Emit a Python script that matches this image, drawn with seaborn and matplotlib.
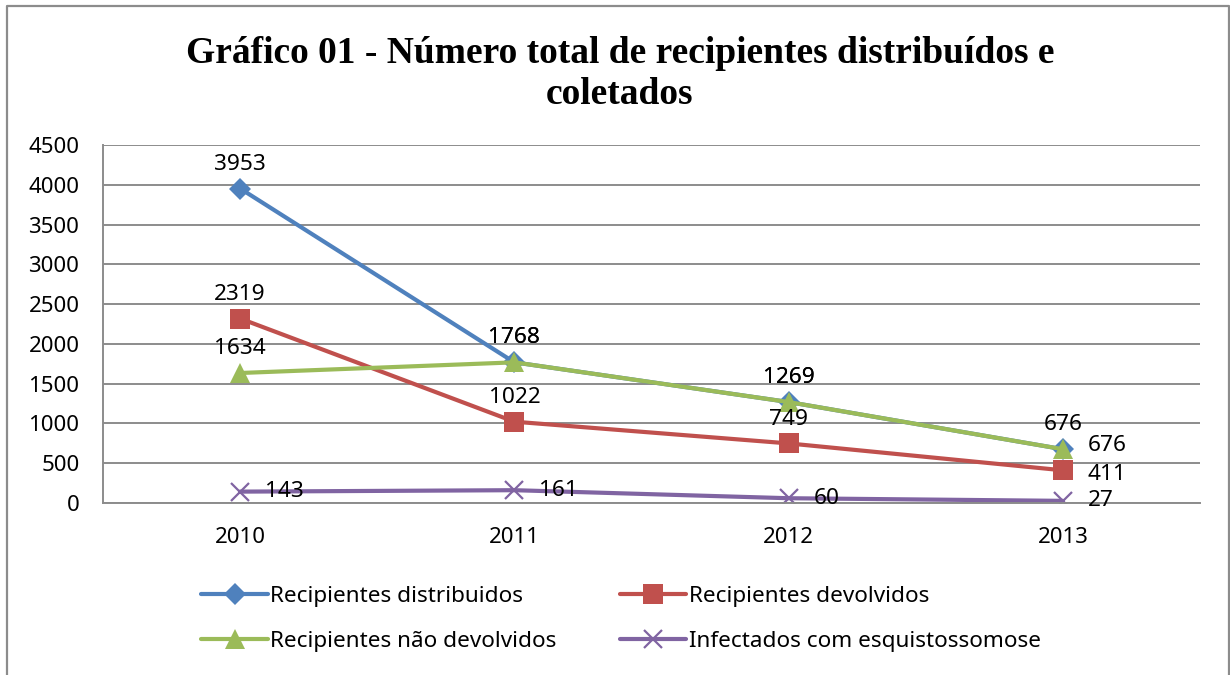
import matplotlib
matplotlib.use("Agg")
import matplotlib.pyplot as plt
from matplotlib.lines import Line2D
import seaborn as sns
import pandas as pd

# ---- data ----
years = [2010, 2011, 2012, 2013]
distribuidos = [3953, 1768, 1269, 676]
devolvidos = [2319, 1022, 749, 411]
nao_devolvidos = [1634, 1768, 1269, 676]
infectados = [143, 161, 60, 27]
series_names = ["Recipientes distribuidos", "Recipientes devolvidos",
                "Recipientes não devolvidos", "Infectados com esquistossomose"]
y_ticks = [0, 500, 1000, 1500, 2000, 2500, 3000, 3500, 4000, 4500]
title = "Gráfico 01 - Número total de recipientes distribuídos e\ncoletados"

sns.set_theme(style="white")
plt.rcParams["font.family"] = ["Noto Sans", "DejaVu Sans"]
plt.rcParams["text.color"] = "black"

fig = plt.figure(figsize=(12.3, 6.75), dpi=100)
ax = fig.add_axes([103 / 1230, 1 - 503 / 675, (1200 - 103) / 1230, (503 - 145) / 675])

styles = [
    dict(color="#4F81BD", marker="D", markersize=11, markeredgewidth=0),
    dict(color="#C0504D", marker="s", markersize=14, markeredgewidth=0),
    dict(color="#9BBB59", marker="^", markersize=15, markeredgewidth=0),
    dict(color="#8064A2", marker="x", markersize=13, markeredgewidth=1.6),
]
# label placement per point: (position, vertical nudge in points)
label_pos = [
    [("above", 0), ("above", 0), ("above", 0), ("above", 0)],
    [("above", 0), ("above", 0), ("above", 0), ("right", -3)],
    [("above", 0), ("above", 0), ("above", 0), ("right", 3)],
    [("right", 0), ("right", 0), ("right", 0), ("right", 0)],
]
values = [distribuidos, devolvidos, nao_devolvidos, infectados]

for name, vals, st, pos in zip(series_names, values, styles, label_pos):
    df = pd.DataFrame({"ano": years, "valor": vals})
    sns.lineplot(data=df, x="ano", y="valor", ax=ax, label=name, linewidth=3,
                 color=st["color"], marker=st["marker"], markersize=st["markersize"],
                 markeredgewidth=st["markeredgewidth"], markeredgecolor=st["color"])
    for x, v, (p, dy) in zip(years, vals, pos):
        if p == "above":
            ax.annotate(str(v), (x, v), xytext=(0, 10 + dy), textcoords="offset points",
                        ha="center", va="bottom", fontsize=16.3, color="black")
        else:
            ax.annotate(str(v), (x, v), xytext=(18, dy), textcoords="offset points",
                        ha="left", va="center", fontsize=16.3, color="black")

ax.set_xlim(2009.5, 2013.5)
ax.set_ylim(0, 4500)
ax.set_yticks(y_ticks)
ax.set_xticks(years)
ax.set_xticklabels([str(y) for y in years])
ax.set_xlabel("")
ax.set_ylabel("")
ax.yaxis.grid(True, color="#8c8c8c", linewidth=1.4)
ax.xaxis.grid(False)
ax.set_axisbelow(True)
for s in ["top", "right"]:
    ax.spines[s].set_visible(False)
for s in ["left", "bottom"]:
    ax.spines[s].set_color("#8c8c8c")
    ax.spines[s].set_linewidth(1.4)
ax.tick_params(axis="both", length=0, labelsize=16, colors="black")
ax.tick_params(axis="y", pad=17)
ax.tick_params(axis="x", pad=17)

handles, labels = ax.get_legend_handles_labels()
ax.get_legend().remove()
order = [0, 2, 1, 3]
fig.legend([handles[i] for i in order], [labels[i] for i in order], loc="center",
           bbox_to_anchor=(0.505, 1 - 619 / 675),
           ncol=2, frameon=False, fontsize=16.2, handlelength=2.95, handletextpad=0.12,
           columnspacing=2.8, labelspacing=1.05, borderpad=0, labelcolor="black")

fig.text(0.504, 1 - 74 / 675, title, ha="center", va="center", fontsize=27,
         fontweight="bold", family=["Liberation Serif", "DejaVu Serif"],
         linespacing=1.2, color="black")

# outer chart frame
c = "#8c8c8c"
fig.add_artist(Line2D([7 / 1230, 7 / 1230, 1229 / 1230, 1229 / 1230],
                      [0, 1 - 6 / 675, 1 - 6 / 675, 0], color=c, linewidth=1.6,
                      transform=fig.transFigure))

fig.savefig("out.png", dpi=100)
